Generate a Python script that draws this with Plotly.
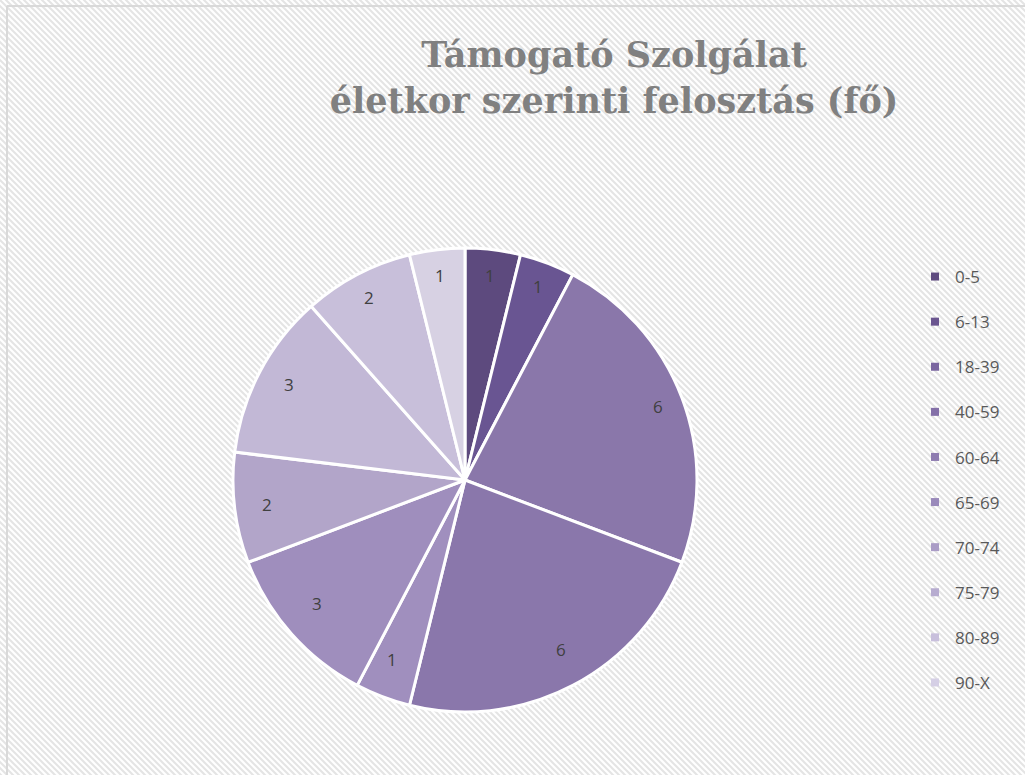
import math
import plotly.graph_objects as go
import urllib.parse

# ---- data ----
categories = ["0-5", "6-13", "18-39", "40-59", "60-64", "65-69", "70-74", "75-79", "80-89", "90-X"]
values = [1, 1, 6, 6, 1, 3, 2, 3, 2, 1]
slice_colors = ["#5d4a7e", "#695592", "#8a77aa", "#8a77ab", "#a08fbe",
                "#9f8ebd", "#b2a5c9", "#c2b8d6", "#c8bfda", "#d7d1e3"]
legend_colors = ["#5f4c80", "#6b5690", "#7a66a0", "#8470a8", "#8e7cb0",
                 "#9a8abb", "#aa9cc6", "#b7acd0", "#c8bfdc", "#d5cfe5"]
title_text = "Támogató Szolgálat<br>életkor szerinti felosztás (fő)"

W, H = 1025, 775
PIE_X = [233 / W, 697 / W]
PIE_Y = [1 - 712 / H, 1 - 248 / H]
LABEL_R = 0.89  # fraction of radius where value labels sit

# background hatch pattern (diagonal light-gray stripes) with top/left border
svg = f"""<svg xmlns='http://www.w3.org/2000/svg' width='{W}' height='{H}' viewBox='0 0 {W} {H}'>
<defs><pattern id='p' width='6' height='6' patternUnits='userSpaceOnUse'>
<rect width='6' height='6' fill='#ffffff'/>
<path d='M-1,-1 L7,7 M-1,5 L1,7 M5,-1 L7,1' stroke='#e4e4e4' stroke-width='2'/>
</pattern></defs>
<rect width='{W}' height='{H}' fill='url(#p)'/>
<line x1='7' y1='6' x2='{W}' y2='6' stroke='#d9d9d9' stroke-width='2'/>
<line x1='7' y1='6' x2='7' y2='{H}' stroke='#d9d9d9' stroke-width='2'/>
</svg>"""
bg_uri = "data:image/svg+xml;charset=utf-8," + urllib.parse.quote(svg)

fig = go.Figure()

fig.add_trace(go.Pie(
    labels=categories,
    values=values,
    sort=False,
    direction="clockwise",
    rotation=0,
    marker=dict(colors=slice_colors, line=dict(color="white", width=3)),
    textinfo="none",
    showlegend=False,
    hoverinfo="label+value",
    domain=dict(x=PIE_X, y=PIE_Y),
))

# value labels placed near the rim, like the original
cx = (PIE_X[0] + PIE_X[1]) / 2
cy = (PIE_Y[0] + PIE_Y[1]) / 2
rx = (PIE_X[1] - PIE_X[0]) / 2
ry = (PIE_Y[1] - PIE_Y[0]) / 2
total = sum(values)
cum = 0
annotations = []
for v in values:
    mid = (cum + v / 2) / total * 2 * math.pi
    cum += v
    annotations.append(dict(
        x=cx + LABEL_R * rx * math.sin(mid),
        y=cy + LABEL_R * ry * math.cos(mid),
        xref="paper", yref="paper", text=str(v), showarrow=False,
        font=dict(family="Open Sans", size=17, color="#404040"),
    ))

# legend entries (one per category)
for cat, col in zip(categories, legend_colors):
    fig.add_trace(go.Scatter(
        x=[None], y=[None], mode="markers", name=cat, legendgroup=cat,
        marker=dict(symbol="square", size=8, color=col),
    ))

fig.update_layout(
    width=W, height=H,
    margin=dict(l=0, r=0, t=0, b=0, autoexpand=False),
    paper_bgcolor="white",
    plot_bgcolor="rgba(0,0,0,0)",
    xaxis=dict(visible=False),
    yaxis=dict(visible=False),
    title=dict(
        text=title_text,
        x=614 / W, xanchor="center",
        y=1 - 67 / H, yanchor="top",
        font=dict(family="DejaVu Serif", size=35, color="#808080", weight="bold"),
    ),
    annotations=annotations,
    legend=dict(
        x=915 / W, xanchor="left",
        y=1 - 259 / H, yanchor="top",
        font=dict(family="Open Sans", size=17, color="#595959"),
        tracegroupgap=20,
        bgcolor="rgba(0,0,0,0)",
        itemwidth=30,
    ),
    images=[dict(source=bg_uri, xref="paper", yref="paper", x=0, y=1,
                 sizex=1, sizey=1, xanchor="left", yanchor="top",
                 sizing="stretch", layer="below")],
)

fig.write_html("out.html", config={"displayModeBar": False},
               post_script="document.body.style.margin='0';")
